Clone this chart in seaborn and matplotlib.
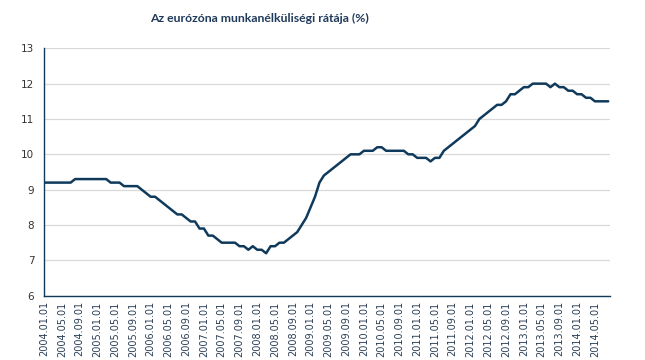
import numpy as np
import pandas as pd
import matplotlib
matplotlib.use("Agg")
import matplotlib.pyplot as plt
import seaborn as sns

title = "Az eurózóna munkanélküliségi rátája (%)"

months = pd.date_range("2004-01-01", "2014-08-01", freq="MS")

rate_2004 = [9.2, 9.2, 9.2, 9.2, 9.2, 9.2, 9.2, 9.3, 9.3, 9.3, 9.3, 9.3]
rate_2005 = [9.3, 9.3, 9.3, 9.2, 9.2, 9.2, 9.1, 9.1, 9.1, 9.1, 9.0, 8.9]
rate_2006 = [8.8, 8.8, 8.7, 8.6, 8.5, 8.4, 8.3, 8.3, 8.2, 8.1, 8.1, 7.9]
rate_2007 = [7.9, 7.7, 7.7, 7.6, 7.5, 7.5, 7.5, 7.5, 7.4, 7.4, 7.3, 7.4]
rate_2008 = [7.3, 7.3, 7.2, 7.4, 7.4, 7.5, 7.5, 7.6, 7.7, 7.8, 8.0, 8.2]
rate_2009 = [8.5, 8.8, 9.2, 9.4, 9.5, 9.6, 9.7, 9.8, 9.9, 10.0, 10.0, 10.0]
rate_2010 = [10.1, 10.1, 10.1, 10.2, 10.2, 10.1, 10.1, 10.1, 10.1, 10.1, 10.0, 10.0]
rate_2011 = [9.9, 9.9, 9.9, 9.8, 9.9, 9.9, 10.1, 10.2, 10.3, 10.4, 10.5, 10.6]
rate_2012 = [10.7, 10.8, 11.0, 11.1, 11.2, 11.3, 11.4, 11.4, 11.5, 11.7, 11.7, 11.8]
rate_2013 = [11.9, 11.9, 12.0, 12.0, 12.0, 12.0, 11.9, 12.0, 11.9, 11.9, 11.8, 11.8]
rate_2014 = [11.7, 11.7, 11.6, 11.6, 11.5, 11.5, 11.5, 11.5]

rates = (rate_2004 + rate_2005 + rate_2006 + rate_2007 + rate_2008 + rate_2009
         + rate_2010 + rate_2011 + rate_2012 + rate_2013 + rate_2014)

y_ticks = [6, 7, 8, 9, 10, 11, 12, 13]

df = pd.DataFrame({"idx": np.arange(len(months)), "rate": rates})
tick_idx = list(range(0, len(months), 4))
tick_labels = [months[i].strftime("%Y.%m.%d") for i in tick_idx]

sns.set_theme(style="white")
plt.rcParams["font.family"] = ["DejaVu Sans"]

fig = plt.figure(figsize=(6.45, 3.6), dpi=100)
ax = fig.add_axes([44 / 645, 1 - 295.7 / 360, (610 - 44) / 645, (295.7 - 48.3) / 360])

navy = "#0f3a5c"
sns.lineplot(data=df, x="idx", y="rate", ax=ax, color=navy, linewidth=1.8)

ax.set_xlim(0, len(months) - 0.6)
ax.set_ylim(6, 13)
ax.set_yticks(y_ticks)
ax.set_yticklabels([str(v) for v in y_ticks], fontsize=7.5, color="#333333")
ax.set_xticks(tick_idx)
ax.set_xticklabels(tick_labels, rotation=90, fontsize=7, color="#2a3f55")
ax.tick_params(axis="y", length=0, pad=7)
ax.tick_params(axis="x", length=0, pad=4)
ax.set_xlabel("")
ax.set_ylabel("")
ax.yaxis.grid(True, color="#d9d9d9", linewidth=0.9)
ax.set_axisbelow(True)
for s in ["top", "right"]:
    ax.spines[s].set_visible(False)
for s in ["left", "bottom"]:
    ax.spines[s].set_color(navy)
    ax.spines[s].set_linewidth(1.0)

fig.text(260 / 645, 1 - 18 / 360, title, ha="center", va="center",
         fontsize=8.8, fontweight="bold", color="#1f3a5a",
         family=["Lato", "DejaVu Sans"])

fig.savefig("out.png", dpi=100, facecolor="white")
